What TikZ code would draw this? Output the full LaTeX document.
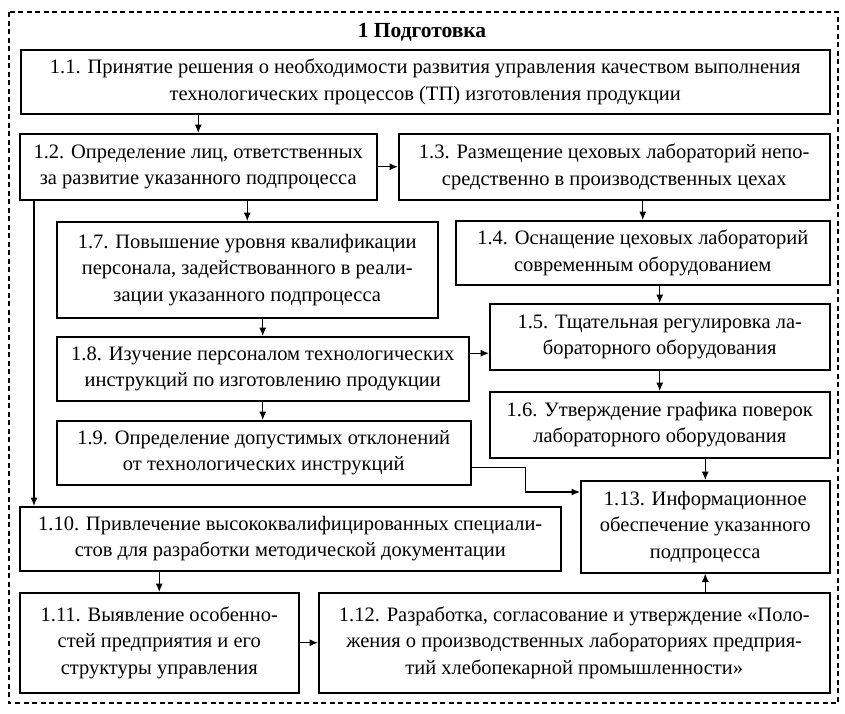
\documentclass[tikz,border=0pt]{standalone}
\usepackage{fontspec}
\setmainfont{Liberation Serif}
\usetikzlibrary{arrows.meta,calc}

\newcommand{\blkfont}{\fontsize{20.5}{26.5}\selectfont}

\begin{document}
\begin{tikzpicture}[x=1pt,y=-1pt,
  blk/.style={draw, line width=1.5pt, align=center, anchor=north west,
    inner sep=0pt, font=\blkfont},
  arr/.style={-{Latex[length=8.5pt,width=7pt]}, line width=1.1pt}]
  \useasboundingbox (0,0) rectangle (845,713);

  % Рамка этапа
  \draw[line width=1.3pt, dash pattern=on 5pt off 3.5pt] (9,12) rectangle (838,703);
  \node[font=\fontsize{21.5}{24}\selectfont\bfseries] (title) at (422,32) {1 Подготовка};

  % Блоки
  \node[blk, minimum width=809pt, minimum height=64pt] (n11) at (20,49)
    {1.1. Принятие решения о необходимости развития управления качеством выполнения\\
     технологических процессов (ТП) изготовления продукции};
  \node[blk, minimum width=357pt, minimum height=66pt] (n12) at (19,133)
    {1.2. Определение лиц, ответственных\\за развитие указанного подпроцесса};
  \node[blk, minimum width=431pt, minimum height=66pt] (n13) at (398,133)
    {1.3. Размещение цеховых лабораторий непо-\\средственно в производственных цехах};
  \node[blk, minimum width=381pt, minimum height=96pt] (n17) at (56,221)
    {1.7. Повышение уровня квалификации\\персонала, задействованного в реали-\\зации указанного подпроцесса};
  \node[blk, minimum width=374pt, minimum height=64pt] (n14) at (455,220)
    {1.4. Оснащение цеховых лабораторий\\современным оборудованием};
  \node[blk, minimum width=340pt, minimum height=66pt] (n15) at (489,303)
    {1.5. Тщательная регулировка ла-\\бораторного оборудования};
  \node[blk, minimum width=412pt, minimum height=64pt] (n18) at (56,336)
    {1.8. Изучение персоналом технологических\\инструкций по изготовлению продукции};
  \node[blk, minimum width=340pt, minimum height=66pt] (n16) at (489,391)
    {1.6. Утверждение графика поверок\\лабораторного оборудования};
  \node[blk, minimum width=414pt, minimum height=64pt] (n19) at (56,420)
    {1.9. Определение допустимых отклонений\\от технологических инструкций};
  \node[blk, minimum width=249pt, minimum height=92pt] (n113) at (580,480)
    {1.13. Информационное\\обеспечение указанного\\подпроцесса};
  \node[blk, minimum width=541pt, minimum height=64pt] (n110) at (19,506)
    {1.10. Привлечение высококвалифицированных специали-\\стов для разработки методической документации};
  \node[blk, minimum width=279pt, minimum height=100pt] (n111) at (19,592)
    {1.11. Выявление особенно-\\стей предприятия и его\\структуры управления};
  \node[blk, minimum width=511pt, minimum height=100pt] (n112) at (318,592)
    {1.12. Разработка, согласование и утверждение «Поло-\\жения о производственных лабораториях предприя-\\тий хлебопекарной промышленности»};

  % Связи
  \draw[arr] (n11.south -| n12.north) -- (n12.north);
  \draw[arr] (n12.east) -- (n13.west);
  \draw[arr] (n12.south -| n17.north) -- (n17.north);
  \draw[arr] (n13.south -| n14.north) -- (n14.north);
  \draw[arr] (n14.south -| n15.north) -- (n15.north);
  \draw[arr] (n15.south) -- (n16.north);
  \draw[arr] (n17.south -| n18.north) -- (n18.north);
  \draw[arr] (n18.south) -- (n19.north -| n18.south);
  \coordinate (m1) at ($(n18.north)!0.5!(n15.south)$);
  \draw[arr] (n18.east |- m1) -- (n15.west |- m1);
  \draw[arr] (n16.south -| n113.north) -- (n113.north);
  \coordinate (m2) at ([yshift=-12pt]n113.north west);
  \draw[arr] ([yshift=-15pt]n19.east) -| ($(n19.east)!0.5!(n113.west)$) |- (m2);
  \draw[arr] ([xshift=15pt]n12.south west) -- ([xshift=15pt]n110.north west);
  \draw[arr] (n110.south -| n111.north) -- (n111.north);
  \draw[arr] (n111.east) -- (n112.west);
  \draw[arr] (n112.north -| n113.south) -- (n113.south);
\end{tikzpicture}
\end{document}
